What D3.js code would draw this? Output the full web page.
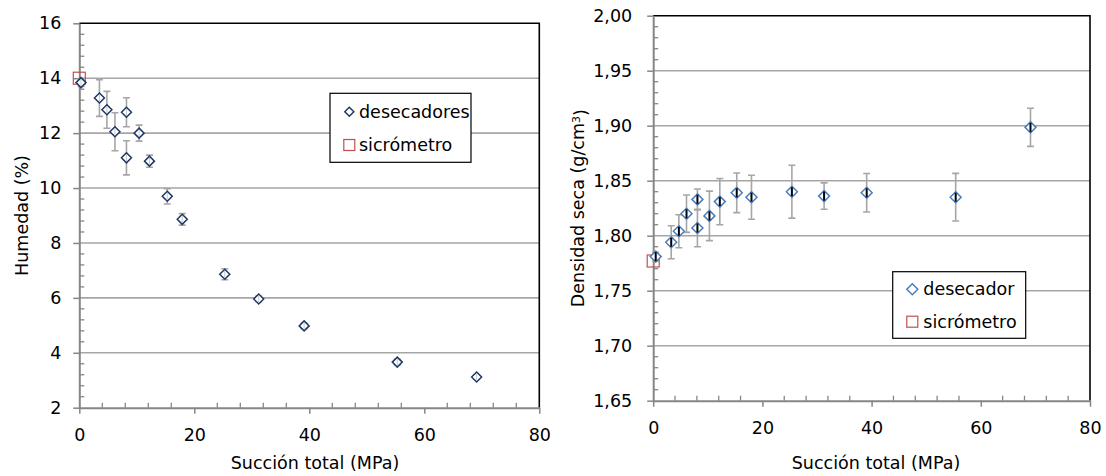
<!DOCTYPE html>
<html>
<head>
<meta charset="utf-8">
<script src="https://cdn.jsdelivr.net/npm/d3@7"></script>
<style>
  html, body { margin: 0; padding: 0; background: #fff; }
  svg { display: block; }
  text { font-family: "DejaVu Sans", Verdana, sans-serif; fill: #000; }
</style>
</head>
<body>
<svg id="chart" width="1106" height="476"></svg>
<script>
// ---------- DATA ----------
// Left chart: Humedad (%) vs Succión total (MPa)
const leftSuction = [0.3, 3.5, 4.8, 6.2, 8.2, 8.2, 10.4, 12.2, 15.3, 17.9, 25.3, 31.2, 39.1, 55.3, 69.1];
const leftHumedad = [13.84, 13.28, 12.85, 12.05, 12.76, 11.10, 12.00, 10.98, 9.70, 8.86, 6.86, 5.96, 4.98, 3.66, 3.12];
const leftHumErr  = [0.14, 0.67, 0.67, 0.69, 0.53, 0.62, 0.29, 0.22, 0.28, 0.21, 0.20, 0.10, 0.10, 0.10, 0.08];
const leftSicroSuction = [0];
const leftSicroHumedad = [14.0];
const leftXTicks = [0, 20, 40, 60, 80];
const leftYTicks = [2, 4, 6, 8, 10, 12, 14, 16];
const leftLegend = ["desecadores", "sicrómetro"];

// Right chart: Densidad seca (g/cm3) vs Succión total (MPa)
const rightSuction = [0.46, 3.3, 4.7, 6.1, 8.1, 8.1, 10.3, 12.2, 15.3, 18.0, 25.4, 31.3, 39.1, 55.4, 69.1];
const rightDensidad = [1.781, 1.794, 1.804, 1.820, 1.833, 1.807, 1.818, 1.831, 1.839, 1.835, 1.840, 1.836, 1.839, 1.835, 1.8985];
const rightDensErr  = [0.004, 0.015, 0.015, 0.017, 0.0095, 0.017, 0.0225, 0.021, 0.018, 0.020, 0.024, 0.012, 0.0175, 0.0217, 0.0173];
const rightSicroSuction = [0];
const rightSicroDensidad = [1.777];
const rightXTicks = [0, 20, 40, 60, 80];
const rightYTicks = [1.65, 1.70, 1.75, 1.80, 1.85, 1.90, 1.95, 2.00];
const rightLegend = ["desecador", "sicrómetro"];

const xTitle = "Succión total (MPa)";
const leftYTitle = "Humedad (%)";
const rightYTitlePre = "Densidad seca (g/cm";
const rightYTitleSup = "3";
const rightYTitlePost = ")";

// ---------- STYLE ----------
const FONT = 17.5;
const AXIS_COL = "#868686";
const GRID_COL = "#a6a6a6";
const ERR_COL = "#a6a6a6";
const LEFT_MARK = "#1f3864";
const RIGHT_MARK = "#4a7ebb";
const SICRO_COL = "#c0504d";

const svg = d3.select("#chart");
const esLocale = d3.formatLocale({decimal: ",", thousands: ".", grouping: [3], currency: ["", "€"]});

function diamondPath(r) {
  return `M0,${-r}L${r},0L0,${r}L${-r},0Z`;
}

function drawPanel(cfg) {
  const g = svg.append("g");
  const x = d3.scaleLinear().domain([0, 80]).range([cfg.x0, cfg.x1]);
  const y = d3.scaleLinear().domain(cfg.yDomain).range([cfg.y0, cfg.y1]);

  // gridlines (excluding bottom & top)
  const gridVals = cfg.yTicks.slice(1, -1);
  g.append("g").selectAll("line").data(gridVals).join("line")
    .attr("x1", cfg.x0).attr("x2", cfg.x1)
    .attr("y1", d => y(d)).attr("y2", d => y(d))
    .attr("stroke", GRID_COL).attr("stroke-width", 1.6);

  // black border top & right
  g.append("path")
    .attr("d", `M${cfg.x0},${y(cfg.yDomain[1])}H${cfg.x1}V${y(cfg.yDomain[0])}`)
    .attr("fill", "none").attr("stroke", "#000").attr("stroke-width", 1.6);

  // minor ticks (inside)
  const xMinor = d3.range(0, 80.001, 4).filter(v => v % 20 !== 0);
  g.append("g").selectAll("line").data(xMinor).join("line")
    .attr("x1", d => x(d)).attr("x2", d => x(d))
    .attr("y1", cfg.y0).attr("y2", cfg.y0 - 5)
    .attr("stroke", AXIS_COL).attr("stroke-width", 1.3);
  const yMinor = d3.range(0, 35).map(i => cfg.yDomain[0] + i * cfg.yMinorStep)
    .filter(v => v < cfg.yDomain[1] - 1e-9)
    .filter(v => Math.abs(Math.round((v - cfg.yDomain[0]) / cfg.yMajorStep) * cfg.yMajorStep - (v - cfg.yDomain[0])) > 1e-6);
  g.append("g").selectAll("line").data(yMinor).join("line")
    .attr("x1", cfg.x0).attr("x2", cfg.x0 + 5)
    .attr("y1", d => y(d)).attr("y2", d => y(d))
    .attr("stroke", AXIS_COL).attr("stroke-width", 1.3);

  // axes
  const xAxis = d3.axisBottom(x).tickValues(cfg.xTicks).tickSizeInner(6).tickSizeOuter(0).tickPadding(15).tickFormat(d3.format("d"));
  const gx = g.append("g").attr("transform", `translate(0,${cfg.y0})`).call(xAxis);
  const yAxis = d3.axisLeft(y).tickValues(cfg.yTicks).tickSizeInner(6).tickSizeOuter(0).tickPadding(cfg.yPad).tickFormat(cfg.yFormat);
  const gy = g.append("g").attr("transform", `translate(${cfg.x0},0)`).call(yAxis);
  [gx, gy].forEach(a => {
    a.select(".domain").attr("stroke", AXIS_COL).attr("stroke-width", 2);
    a.selectAll(".tick line").attr("stroke", AXIS_COL).attr("stroke-width", 1.5);
    a.selectAll(".tick text").style("font-size", FONT + "px").style("font-family", '"DejaVu Sans", sans-serif').attr("fill", "#000");
  });

  // error bars
  const eb = g.append("g").attr("stroke", ERR_COL).attr("stroke-width", 1.6).attr("fill", "none");
  cfg.xs.forEach((xv, i) => {
    const cx = x(xv), yt = y(cfg.ys[i] + cfg.errs[i]), yb = y(cfg.ys[i] - cfg.errs[i]);
    eb.append("path").attr("d", `M${cx},${yt}V${yb}M${cx - 3.5},${yt}H${cx + 3.5}M${cx - 3.5},${yb}H${cx + 3.5}`);
  });

  // sicrometro squares
  g.append("g").selectAll("rect").data(cfg.sx.map((v, i) => [v, cfg.sy[i]])).join("rect")
    .attr("x", d => x(d[0]) - 6).attr("y", d => y(d[1]) - 6)
    .attr("width", 12).attr("height", 12)
    .attr("fill", "none").attr("stroke", SICRO_COL).attr("stroke-width", 1.2);

  // diamonds
  const pts = cfg.xs.map((v, i) => [v, cfg.ys[i]]);
  const dg = g.append("g");
  dg.selectAll("path").data(pts).join("path")
    .attr("transform", d => `translate(${x(d[0])},${y(d[1])})`)
    .attr("d", diamondPath(cfg.dr))
    .attr("fill", "#fff").attr("stroke", cfg.markCol).attr("stroke-width", 1.5);
  if (cfg.innerBar) {
    dg.selectAll("rect").data(pts).join("rect")
      .attr("x", d => x(d[0]) - 1).attr("y", d => y(d[1]) - 4.5)
      .attr("width", 2).attr("height", 9).attr("fill", "#000");
  } else {
    dg.selectAll("line").data(pts).join("line")
      .attr("x1", d => x(d[0])).attr("x2", d => x(d[0]))
      .attr("y1", d => y(d[1]) - 3.5).attr("y2", d => y(d[1]) + 3.5)
      .attr("stroke", ERR_COL).attr("stroke-width", 1).attr("opacity", 0.6);
  }

  // legend
  const L = cfg.legend;
  g.append("rect").attr("x", L.x).attr("y", L.y).attr("width", L.w).attr("height", L.h)
    .attr("fill", "#fff").attr("stroke", "#000").attr("stroke-width", 1.2);
  g.append("path").attr("transform", `translate(${L.mx},${L.r1})`).attr("d", diamondPath(L.dr))
    .attr("fill", "none").attr("stroke", cfg.markCol).attr("stroke-width", 1.5);
  g.append("rect").attr("x", L.mx - 5.5).attr("y", L.r2 - 5.5).attr("width", 11).attr("height", 11)
    .attr("fill", "none").attr("stroke", SICRO_COL).attr("stroke-width", 1.2);
  g.append("text").attr("x", L.tx).attr("y", L.r1).attr("dy", "0.35em").style("font-size", FONT + "px").text(cfg.legendLabels[0]);
  g.append("text").attr("x", L.tx).attr("y", L.r2).attr("dy", "0.35em").style("font-size", FONT + "px").text(cfg.legendLabels[1]);

  // x title
  g.append("text").attr("x", cfg.xTitleX).attr("y", 469).attr("text-anchor", "middle")
    .style("font-size", FONT + "px").text(xTitle);

  return {g, x, y};
}

const left = drawPanel({
  x0: 79.3, x1: 539.3, y0: 407.7, y1: 23.3,
  yDomain: [2, 16], yTicks: leftYTicks, xTicks: leftXTicks,
  yMajorStep: 2, yMinorStep: 0.4, yPad: 12,
  yFormat: d3.format("d"),
  xs: leftSuction, ys: leftHumedad, errs: leftHumErr,
  sx: leftSicroSuction, sy: leftSicroHumedad,
  markCol: LEFT_MARK, dr: 5, innerBar: false,
  legend: {x: 330, y: 93.3, w: 141, h: 69, mx: 349.3, r1: 111.7, r2: 145, tx: 359, dr: 4.5},
  legendLabels: leftLegend,
  xTitleX: 315
});
left.g.append("text")
  .attr("transform", `translate(22,${(23.3 + 407.7) / 2}) rotate(-90)`)
  .attr("text-anchor", "middle").attr("dy", "0.35em")
  .style("font-size", FONT + "px").text(leftYTitle);

const right = drawPanel({
  x0: 653.2, x1: 1090, y0: 400.7, y1: 15.7,
  yDomain: [1.65, 2.00], yTicks: rightYTicks, xTicks: rightXTicks,
  yMajorStep: 0.05, yMinorStep: 0.01, yPad: 15,
  yFormat: esLocale.format(".2f"),
  xs: rightSuction, ys: rightDensidad, errs: rightDensErr,
  sx: rightSicroSuction, sy: rightSicroDensidad,
  markCol: RIGHT_MARK, dr: 5.5, innerBar: true,
  legend: {x: 892.7, y: 271.7, w: 133, h: 66.6, mx: 912.3, r1: 289.3, r2: 321.7, tx: 923.3, dr: 5.5},
  legendLabels: rightLegend,
  xTitleX: 876
});
const ry = right.g.append("text")
  .attr("transform", `translate(578,${(15.7 + 400.7) / 2}) rotate(-90)`)
  .attr("text-anchor", "middle").attr("dy", "0.35em")
  .style("font-size", FONT + "px");
ry.append("tspan").text(rightYTitlePre);
ry.append("tspan").attr("dy", "-0.4em").style("font-size", "11px").text(rightYTitleSup);
ry.append("tspan").attr("dy", "0.4em").text(rightYTitlePost);
</script>
</body>
</html>
